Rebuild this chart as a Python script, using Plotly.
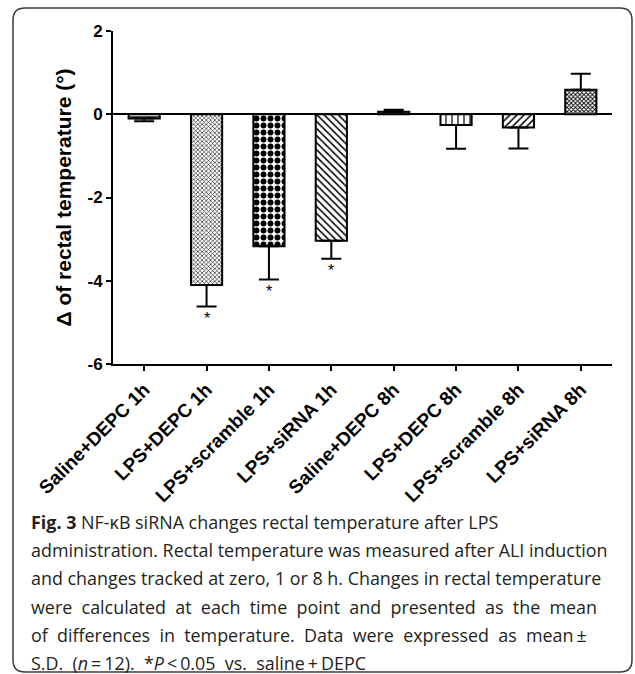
import plotly.graph_objects as go

# ---------------- data ----------------
categories = ["Saline+DEPC 1h", "LPS+DEPC 1h", "LPS+scramble 1h", "LPS+siRNA 1h",
              "Saline+DEPC 8h", "LPS+DEPC 8h", "LPS+scramble 8h", "LPS+siRNA 8h"]
mean_change = [-0.10, -4.10, -3.17, -3.04, 0.06, -0.26, -0.32, 0.59]
sd_change = [0.07, 0.52, 0.80, 0.43, 0.05, 0.57, 0.50, 0.38]
significant = [False, True, True, True, False, False, False, False]
y_tick_vals = [-6, -4, -2, 0, 2]
y_tick_text = ["-6", "-4", "-2", "0", "2"]
y_title = "Δ of rectal temperature (°)"
caption_lines = [
    "<b>Fig. 3</b> NF-κB siRNA changes rectal temperature after LPS",
    "administration. Rectal temperature was measured after ALI induction",
    "and changes tracked at zero, 1 or 8 h. Changes in rectal temperature",
    "were\u00a0 calculated\u00a0 at\u00a0 each\u00a0 time\u00a0 point\u00a0 and\u00a0 presented\u00a0 as\u00a0 the\u00a0 mean",
    "of\u00a0 differences\u00a0 in\u00a0 temperature.\u00a0 Data\u00a0 were\u00a0 expressed\u00a0 as\u00a0 mean\u2009±",
    "S.D.\u00a0 (<i>n</i>\u2009=\u200912).\u00a0 *<i>P</i>\u2009<\u20090.05\u00a0 vs.\u00a0 saline\u2009+\u2009DEPC",
]

# patterns per bar (style)
pat_shape = ["-", "x", ".", "\\", "-", "|", "/", "x"]
pat_size = [4, 3, 7, 5, 4, 6, 5, 3]
pat_solid = [0.35, 0.35, 0.55, 0.3, 0.35, 0.2, 0.3, 0.5]

W, H = 635, 674
L, R, T, B = 113, 23, 31, 310
pw, ph = W - L - R, H - T - B


def px_x(px):
    return (px - L) / pw


def px_y(py):
    return (H - B - py) / ph


plus = [sd if v >= 0 else 0 for v, sd in zip(mean_change, sd_change)]
minus = [sd if v < 0 else 0 for v, sd in zip(mean_change, sd_change)]

fig = go.Figure()
fig.add_trace(go.Bar(
    x=categories, y=mean_change, width=0.5,
    marker=dict(
        color="white",
        line=dict(color="black", width=2),
        pattern=dict(shape=pat_shape, size=pat_size, solidity=pat_solid,
                     fgcolor="black", bgcolor="white", fillmode="replace"),
    ),
    error_y=dict(type="data", symmetric=False, array=plus, arrayminus=minus,
                 color="black", thickness=2, width=10),
    showlegend=False,
))

annotations = []
for c, v, sd, s in zip(categories, mean_change, sd_change, significant):
    if s:
        annotations.append(dict(x=c, y=v - sd, xref="x", yref="y", text="*",
                                showarrow=False, yanchor="top", yshift=-1,
                                font=dict(family="Liberation Sans", size=16, color="black")))

annotations.append(dict(x=px_x(63), y=0.5, xref="paper", yref="paper", text=y_title,
                        textangle=-90, showarrow=False, xanchor="center", yanchor="middle",
                        font=dict(family="Liberation Sans", size=21, color="black", weight="bold")))

for i, line in enumerate(caption_lines):
    annotations.append(dict(x=px_x(29), y=px_y(522 + 28.2 * i), xref="paper", yref="paper",
                            text=line, showarrow=False, xanchor="left", yanchor="middle",
                            align="left",
                            font=dict(family="Open Sans", size=17.9, color="#231f20")))

# rounded border
x0, x1, y0, y1, r = 13, 632, 8, 672, 12
rx, ry = r / pw, r / ph
X0, X1, Y0, Y1 = px_x(x0), px_x(x1), px_y(y1), px_y(y0)
path = (f"M {X0+rx},{Y1} L {X1-rx},{Y1} Q {X1},{Y1} {X1},{Y1-ry} "
        f"L {X1},{Y0+ry} Q {X1},{Y0} {X1-rx},{Y0} L {X0+rx},{Y0} "
        f"Q {X0},{Y0} {X0},{Y0+ry} L {X0},{Y1-ry} Q {X0},{Y1} {X0+rx},{Y1} Z")

fig.update_layout(
    width=W, height=H,
    margin=dict(l=L, r=R, t=T, b=B),
    paper_bgcolor="white", plot_bgcolor="white",
    annotations=annotations,
    shapes=[dict(type="path", path=path, xref="paper", yref="paper",
                 line=dict(color="#3a3a3a", width=1.5), layer="above")],
    bargap=0.5,
)
fig.update_yaxes(
    range=[-6, 2], tickvals=y_tick_vals, ticktext=y_tick_text,
    showline=True, linecolor="black", linewidth=2,
    ticks="outside", ticklen=5, tickwidth=2, tickcolor="black",
    showgrid=False, zeroline=True, zerolinecolor="black", zerolinewidth=1.5,
    tickfont=dict(family="Liberation Sans", size=17, color="black", weight="bold"),
)
fig.update_xaxes(
    showline=True, linecolor="black", linewidth=2,
    ticks="outside", ticklen=5, tickwidth=2, tickcolor="black",
    showgrid=False, tickangle=-45,
    tickfont=dict(family="Liberation Sans", size=19, color="black", weight="bold"),
)

fig.write_html("out.html", config={"displayModeBar": False},
               post_script="document.body.style.margin='0';document.body.style.overflow='hidden';")
